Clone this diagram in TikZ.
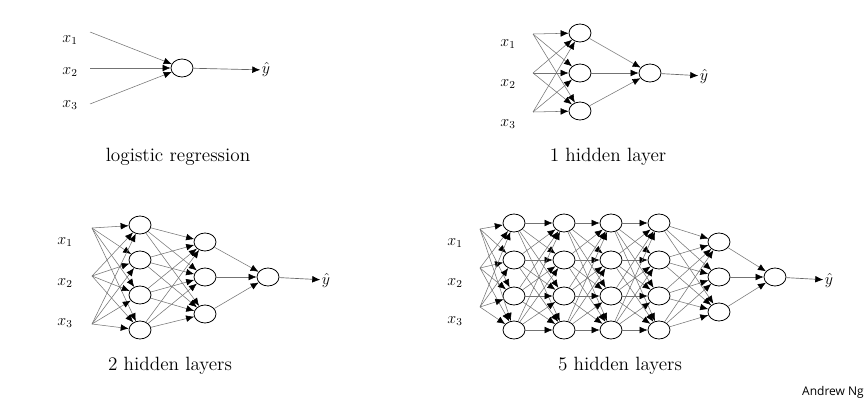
\documentclass[tikz,border=0pt]{standalone}
\usepackage{fontspec}
\newfontfamily\ngfont{Open Sans}
\usetikzlibrary{arrows.meta,shapes.geometric}
\begin{document}
\begin{tikzpicture}[x=0.75pt,y=-0.75pt,
  neu/.style={draw,ellipse,minimum width=16.5pt,minimum height=13.5pt,inner sep=0pt,line width=0.6pt},
  inp/.style={inner sep=1pt,font=\large},
  edge/.style={draw=black!55,line width=0.4pt,-{Latex[length=6pt,width=5pt,black]}},
  outarrow/.style={draw=black!60,line width=0.5pt,-{Latex[length=6pt,width=5pt,black]}},
  lbl/.style={font=\Large}]
\useasboundingbox (0,0) rectangle (864,410);
\fill[white] (0,0) rectangle (864,410);
% logistic regression
\node[inp] (a1) at (70,40) {$x_1$};
\node[inp] (a2) at (70,72) {$x_2$};
\node[inp] (a3) at (70,105) {$x_3$};
\coordinate (s1) at (90,32); \coordinate (s2) at (90,68); \coordinate (s3) at (90,104);
\node[neu] (ao) at (182,68) {};
\foreach \i in {1,2,3} \draw[edge] (s\i) -- (ao);
\node[inp] (ay) at (266,70) {$\hat y$};
\draw[outarrow] (ao) -- (ay);
\node[lbl] (al) at (178,157) {logistic regression};
% 1 hidden layer
\node[inp] (b1) at (508,44) {$x_1$};
\node[inp] (b2) at (508,84) {$x_2$};
\node[inp] (b3) at (508,124) {$x_3$};
\coordinate (t1) at (533,34); \coordinate (t2) at (533,73); \coordinate (t3) at (533,112);
\foreach \j/\y in {1/33,2/73,3/111} \node[neu] (bh\j) at (580,\y) {};
\node[neu] (bo) at (650,73) {};
\foreach \i in {1,2,3} \foreach \j in {1,2,3} \draw[edge] (t\i) -- (bh\j);
\foreach \j in {1,2,3} \draw[edge] (bh\j) -- (bo);
\node[inp] (by) at (704,76) {$\hat y$};
\draw[outarrow] (bo) -- (by);
\node[lbl] (bl) at (608,157) {1 hidden layer};
% 2 hidden layers
\node[inp] (c1) at (65,242) {$x_1$};
\node[inp] (c2) at (65,283) {$x_2$};
\node[inp] (c3) at (65,323) {$x_3$};
\coordinate (u1) at (92,228); \coordinate (u2) at (92,276); \coordinate (u3) at (92,324);
\foreach \j/\y in {1/225,2/260,3/295,4/330} \node[neu] (cp\j) at (140,\y) {};
\foreach \j/\y in {1/242,2/277,3/314} \node[neu] (cq\j) at (205,\y) {};
\node[neu] (co) at (268,277) {};
\foreach \i in {1,2,3} \foreach \j in {1,...,4} \draw[edge] (u\i) -- (cp\j);
\foreach \i in {1,...,4} \foreach \j in {1,2,3} \draw[edge] (cp\i) -- (cq\j);
\foreach \j in {1,2,3} \draw[edge] (cq\j) -- (co);
\node[inp] (cy) at (326,280) {$\hat y$};
\draw[outarrow] (co) -- (cy);
\node[lbl] (cl) at (170,366) {2 hidden layers};
% 5 hidden layers
\node[inp] (d1) at (455,243) {$x_1$};
\node[inp] (d2) at (455,283) {$x_2$};
\node[inp] (d3) at (455,321) {$x_3$};
\coordinate (v1) at (480,229); \coordinate (v2) at (480,268); \coordinate (v3) at (480,307);
\foreach \L/\x in {1/514,2/564,3/611,4/659}
  \foreach \j/\y in {1/223,2/260,3/296,4/330} \node[neu] (n\L\j) at (\x,\y) {};
\foreach \j/\y in {1/242,2/277,3/312} \node[neu] (n5\j) at (719,\y) {};
\node[neu] (do) at (775,277) {};
\foreach \i in {1,2,3} \foreach \j in {1,...,4} \draw[edge] (v\i) -- (n1\j);
\foreach \L/\M in {1/2,2/3,3/4} \foreach \i in {1,...,4} \foreach \j in {1,...,4} \draw[edge] (n\L\i) -- (n\M\j);
\foreach \i in {1,...,4} \foreach \j in {1,2,3} \draw[edge] (n4\i) -- (n5\j);
\foreach \j in {1,2,3} \draw[edge] (n5\j) -- (do);
\node[inp] (dy) at (829,280) {$\hat y$};
\draw[outarrow] (do) -- (dy);
\node[lbl] (dl) at (620,366) {5 hidden layers};
\node[font=\ngfont\small] (ng) at (833,392) {Andrew Ng};
\end{tikzpicture}
\end{document}
